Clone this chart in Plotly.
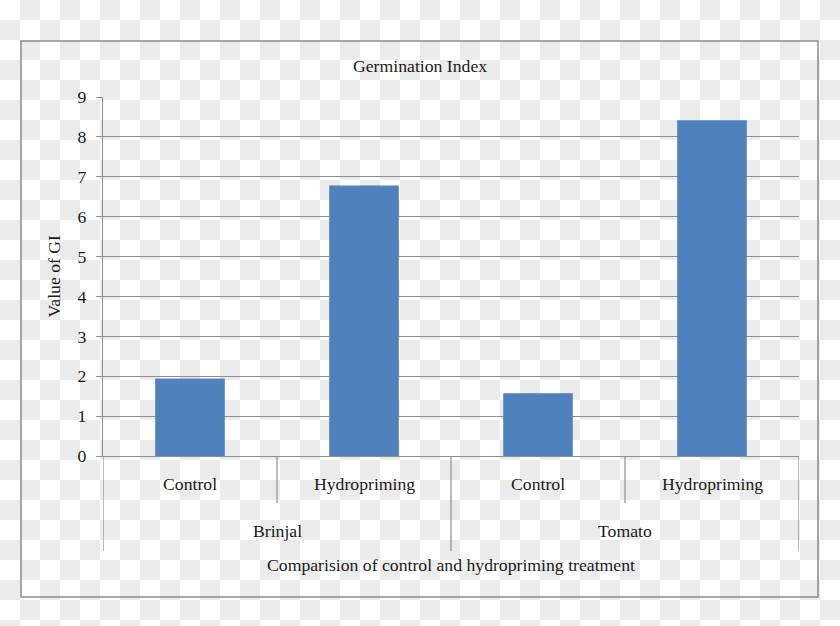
import base64
import plotly.graph_objects as go

# data
crops = ["Brinjal", "Brinjal", "Tomato", "Tomato"]
treatments = ["Control", "Hydropriming", "Control", "Hydropriming"]
gi_values = [1.94, 6.78, 1.57, 8.42]
y_ticks = list(range(0, 10))

W, H = 840, 626
L, R, T, B = 103, 41, 97, 170
PW, PH = W - L - R, H - T - B

FONT = "Liberation Serif, Times New Roman, serif"
FS = 17.7
TXT = "#1a1a1a"
GRID = "#8f8f8f"
BAR = "#4f81bd"


def px_x(x):
    return (x - L) / PW


def px_y(y):
    return (H - B - y) / PH


cats = [f"{c} {t}" for c, t in zip(crops, treatments)]

fig = go.Figure(go.Bar(x=cats, y=gi_values, marker=dict(color=BAR, line=dict(width=0)),
                       width=0.4, hoverinfo="x+y"))

# transparent-png checkerboard behind everything
svg = ('<svg xmlns="http://www.w3.org/2000/svg" width="840" height="626">'
       '<defs><pattern id="c" width="40" height="40" patternUnits="userSpaceOnUse">'
       '<rect width="40" height="40" fill="#ffffff"/>'
       '<rect x="20" width="20" height="20" fill="#ebebeb"/>'
       '<rect y="20" width="20" height="20" fill="#ebebeb"/></pattern></defs>'
       '<rect width="840" height="626" fill="url(#c)"/></svg>')
src = "data:image/svg+xml;base64," + base64.b64encode(svg.encode()).decode()
fig.add_layout_image(source=src, xref="paper", yref="paper", x=px_x(0), y=px_y(0),
                     sizex=W / PW, sizey=H / PH, sizing="stretch",
                     xanchor="left", yanchor="top", layer="below")

# outer frame
fig.add_shape(type="rect", xref="paper", yref="paper", x0=px_x(21), x1=px_x(818),
              y0=px_y(597), y1=px_y(41), line=dict(color="#8a8a8a", width=1.5), layer="above")

# category dividers under the axis (short between treatments, long between crops)
for i in range(len(cats) + 1):
    edge = i == 0 or i == len(cats) or crops[i] != crops[i - 1]
    fig.add_shape(type="line", xref="x", yref="paper", x0=i - 0.5, x1=i - 0.5,
                  y0=0, y1=px_y(551 if edge else 503), line=dict(color=GRID, width=1.2))

ann = []
for c, t in zip(cats, treatments):
    ann.append(dict(x=c, xref="x", y=px_y(484), yref="paper", text=t))
for g in dict.fromkeys(crops):
    idx = [i for i, c in enumerate(crops) if c == g]
    ann.append(dict(x=(idx[0] + idx[-1]) / 2, xref="x", y=px_y(531), yref="paper", text=g))
ann.append(dict(x=0.5, xref="paper", y=px_y(565), yref="paper",
                text="Comparision of control and hydropriming treatment"))
ann.append(dict(x=px_x(420), xref="paper", y=px_y(66), yref="paper", text="Germination Index"))
ann.append(dict(x=px_x(53), xref="paper", y=0.5, yref="paper", text="Value of GI", textangle=-90))
for a in ann:
    a.update(showarrow=False, xanchor="center", yanchor="middle",
             font=dict(family=FONT, size=FS, color=TXT))

fig.update_layout(
    width=W, height=H, margin=dict(l=L, r=R, t=T, b=B, pad=0),
    paper_bgcolor="white", plot_bgcolor="white",
    showlegend=False, annotations=ann,
    font=dict(family=FONT, size=FS, color=TXT),
)
fig.update_xaxes(type="category", showticklabels=False, ticks="", showgrid=False,
                 showline=True, linecolor=GRID, linewidth=1.2, range=[-0.5, 3.5])
fig.update_yaxes(range=[0, 9], tickvals=y_ticks, showgrid=True, gridcolor=GRID, gridwidth=1.2,
                 zeroline=False, showline=True, linecolor=GRID, linewidth=1.2,
                 ticks="outside", ticklen=6, tickcolor=GRID, tickwidth=1.2,
                 ticklabelstandoff=6, tickfont=dict(family=FONT, size=FS, color=TXT))

fig.write_html("out.html", config={"displayModeBar": False},
               post_script="document.body.style.margin='0';")
